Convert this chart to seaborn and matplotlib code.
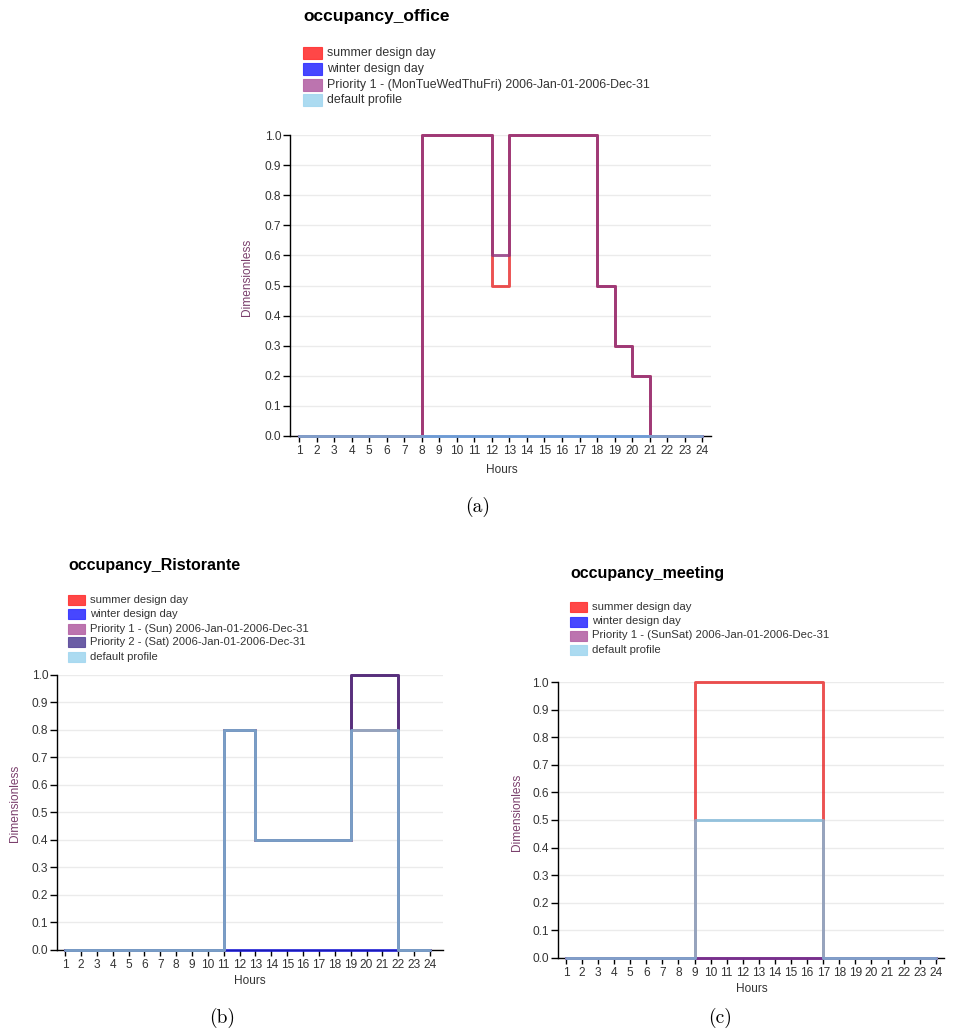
import matplotlib
matplotlib.use("Agg")
import matplotlib.pyplot as plt
from matplotlib.patches import Rectangle
import seaborn as sns

# ---- data -------------------------------------------------------------
hours = [1, 2, 3, 4, 5, 6, 7, 8, 9, 10, 11, 12,
         13, 14, 15, 16, 17, 18, 19, 20, 21, 22, 23, 24]

office_summer = [0, 0, 0, 0, 0, 0, 0, 1.0, 1.0, 1.0, 1.0, 0.5,
                 1.0, 1.0, 1.0, 1.0, 1.0, 0.5, 0.3, 0.2, 0, 0, 0, 0]
office_winter = [0, 0, 0, 0, 0, 0, 0, 0, 0, 0, 0, 0,
                 0, 0, 0, 0, 0, 0, 0, 0, 0, 0, 0, 0]
office_weekday = [0, 0, 0, 0, 0, 0, 0, 1.0, 1.0, 1.0, 1.0, 0.6,
                  1.0, 1.0, 1.0, 1.0, 1.0, 0.5, 0.3, 0.2, 0, 0, 0, 0]
office_default = [0, 0, 0, 0, 0, 0, 0, 0, 0, 0, 0, 0,
                  0, 0, 0, 0, 0, 0, 0, 0, 0, 0, 0, 0]

rist_summer = [0, 0, 0, 0, 0, 0, 0, 0, 0, 0, 0.8, 0.8,
               0.4, 0.4, 0.4, 0.4, 0.4, 0.4, 0.8, 0.8, 0.8, 0, 0, 0]
rist_winter = [0, 0, 0, 0, 0, 0, 0, 0, 0, 0, 0, 0,
               0, 0, 0, 0, 0, 0, 0, 0, 0, 0, 0, 0]
rist_sun = [0, 0, 0, 0, 0, 0, 0, 0, 0, 0, 0.8, 0.8,
            0.4, 0.4, 0.4, 0.4, 0.4, 0.4, 1.0, 1.0, 1.0, 0, 0, 0]
rist_sat = [0, 0, 0, 0, 0, 0, 0, 0, 0, 0, 0.8, 0.8,
            0.4, 0.4, 0.4, 0.4, 0.4, 0.4, 1.0, 1.0, 1.0, 0, 0, 0]
rist_default = [0, 0, 0, 0, 0, 0, 0, 0, 0, 0, 0.8, 0.8,
                0.4, 0.4, 0.4, 0.4, 0.4, 0.4, 0.8, 0.8, 0.8, 0, 0, 0]

meet_summer = [0, 0, 0, 0, 0, 0, 0, 0, 1.0, 1.0, 1.0, 1.0,
               1.0, 1.0, 1.0, 1.0, 0, 0, 0, 0, 0, 0, 0, 0]
meet_winter = [0, 0, 0, 0, 0, 0, 0, 0, 0, 0, 0, 0,
               0, 0, 0, 0, 0, 0, 0, 0, 0, 0, 0, 0]
meet_sunsat = [0, 0, 0, 0, 0, 0, 0, 0, 0, 0, 0, 0,
               0, 0, 0, 0, 0, 0, 0, 0, 0, 0, 0, 0]
meet_default = [0, 0, 0, 0, 0, 0, 0, 0, 0.5, 0.5, 0.5, 0.5,
                0.5, 0.5, 0.5, 0.5, 0, 0, 0, 0, 0, 0, 0, 0]

y_ticks = [0.0, 0.1, 0.2, 0.3, 0.4, 0.5, 0.6, 0.7, 0.8, 0.9, 1.0]

# series styles: (legend swatch colour, line colour)
STYLE = {
    "summer design day": ("#ff3333", "#e82c2c"),
    "winter design day": ("#3333ff", "#2020e0"),
    "priority1": ("#b565a7", "#8e3580"),
    "priority2": ("#5b4b9b", "#482878"),
    "default profile": ("#a3d7f0", "#82b8d8"),
}

SMALL = 8.6

# ---- figure -----------------------------------------------------------
sns.set_theme(style="white")
plt.rcParams["font.family"] = ["Liberation Sans", "DejaVu Sans"]

W, H = 957, 1036
fig = plt.figure(figsize=(W / 100, H / 100), dpi=100)
fig.patch.set_facecolor("white")


def fx(x):
    return x / W


def fy(y):
    return 1 - y / H


def axes_px(left, top, right, bottom):
    return fig.add_axes([fx(left), fy(bottom), (right - left) / W, (bottom - top) / H])


def draw_panel(ax, series, xmax):
    for z, (key, vals) in enumerate(series):
        sns.lineplot(x=hours, y=vals, ax=ax, color=STYLE[key][1], lw=2.1,
                     alpha=0.82, drawstyle="steps-post", clip_on=False,
                     zorder=3 + z, legend=False)
    ax.set_xlim(0.5, xmax)
    ax.set_ylim(0, 1)
    ax.set_xticks(hours)
    ax.set_xticklabels([str(h) for h in hours])
    ax.set_yticks(y_ticks)
    ax.set_yticklabels([f"{v:.1f}" for v in y_ticks])
    ax.set_xlabel("")
    ax.set_ylabel("")
    for side in ("top", "right"):
        ax.spines[side].set_visible(False)
    for side in ("left", "bottom"):
        ax.spines[side].set_color("black")
        ax.spines[side].set_linewidth(1.0)
    ax.yaxis.grid(True, color="#ebebeb", lw=1.0)
    ax.xaxis.grid(False)
    ax.set_axisbelow(True)
    ax.tick_params(axis="x", bottom=True, direction="out", length=4.5, width=1,
                   color="black", labelsize=SMALL, labelcolor="#333333", pad=2.0)
    ax.tick_params(axis="y", left=True, direction="out", length=5, width=1,
                   color="black", labelsize=SMALL, labelcolor="#333333", pad=1.5)
    ax.patch.set_alpha(0)


def draw_legend(x0, y_rows, sw, sh, entries, size):
    for y, (key, label) in zip(y_rows, entries):
        c = STYLE[key][0]
        fig.patches.append(Rectangle((fx(x0), fy(y + sh / 2)), sw / W, sh / H,
                                     transform=fig.transFigure, facecolor=c,
                                     edgecolor=c, lw=0.8, alpha=0.9))
        fig.text(fx(x0 + sw + 5), fy(y), label, fontsize=size, color="#333333",
                 ha="left", va="center")


def draw_labels(title_xy, title_size, hours_xy, dim_xy, caption_xy, caption, title):
    fig.text(fx(title_xy[0]), fy(title_xy[1]), title, fontsize=title_size,
             fontweight="bold", color="black", ha="left", va="baseline")
    fig.text(fx(hours_xy[0]), fy(hours_xy[1]), "Hours", fontsize=SMALL,
             color="#333333", ha="center", va="center")
    fig.text(fx(dim_xy[0]), fy(dim_xy[1]), "Dimensionless", fontsize=SMALL,
             color="#7a3f6c", ha="center", va="center", rotation=90)
    fig.text(fx(caption_xy[0]), fy(caption_xy[1]), caption, fontsize=14,
             family="cmr10", color="black", ha="center", va="center")


# (a) office
ax_a = axes_px(290.2, 135, 711.1, 436)
draw_panel(ax_a, [("summer design day", office_summer),
                  ("winter design day", office_winter),
                  ("priority1", office_weekday),
                  ("default profile", office_default)], 24.5)
draw_labels((303, 21), 12.5, (502, 470), (246.7, 277), (478, 507), "(a)",
            "occupancy_office")
draw_legend(303, [53, 69, 85, 100], 19, 11,
            [("summer design day", "summer design day"),
             ("winter design day", "winter design day"),
             ("priority1", "Priority 1 - (MonTueWedThuFri) 2006-Jan-01-2006-Dec-31"),
             ("default profile", "default profile")], 8.9)

# (b) Ristorante
ax_b = axes_px(57.1, 674.7, 442.7, 950)
draw_panel(ax_b, [("summer design day", rist_summer),
                  ("winter design day", rist_winter),
                  ("priority1", rist_sun),
                  ("priority2", rist_sat),
                  ("default profile", rist_default)], 24.8)
draw_labels((68, 570), 11.5, (250, 981.5), (15, 803), (222, 1018), "(b)",
            "occupancy_Ristorante")
draw_legend(68, [600, 614, 628.5, 642, 657], 17, 10,
            [("summer design day", "summer design day"),
             ("winter design day", "winter design day"),
             ("priority1", "Priority 1 - (Sun) 2006-Jan-01-2006-Dec-31"),
             ("priority2", "Priority 2 - (Sat) 2006-Jan-01-2006-Dec-31"),
             ("default profile", "default profile")], 8.15)

# (c) meeting
ax_c = axes_px(557.9, 682.3, 943.8, 957.7)
draw_panel(ax_c, [("summer design day", meet_summer),
                  ("winter design day", meet_winter),
                  ("priority1", meet_sunsat),
                  ("default profile", meet_default)], 24.5)
draw_labels((570, 578), 11.5, (752, 989), (517, 812), (720, 1018), "(c)",
            "occupancy_meeting")
draw_legend(570, [607, 621.5, 635.5, 650], 17, 10,
            [("summer design day", "summer design day"),
             ("winter design day", "winter design day"),
             ("priority1", "Priority 1 - (SunSat) 2006-Jan-01-2006-Dec-31"),
             ("default profile", "default profile")], 8.2)

fig.savefig("out.png", dpi=100, facecolor="white")
